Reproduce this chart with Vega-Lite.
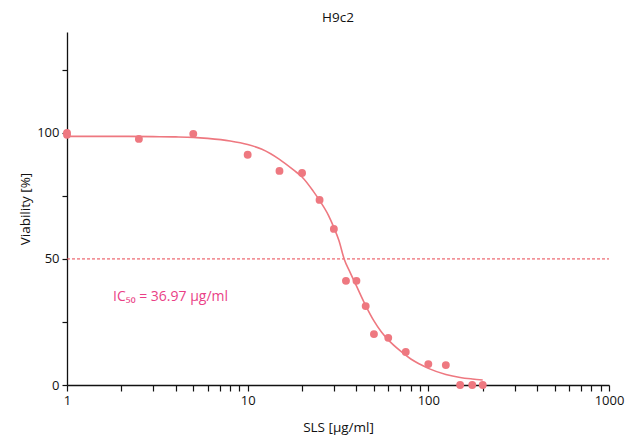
{
  "$schema": "https://vega.github.io/schema/vega-lite/v6.json",
  "width": 542,
  "height": 353,
  "autosize": {"type": "none"},
  "padding": {"left": 67, "top": 32, "right": 23, "bottom": 52},
  "background": "white",
  "config": {
    "view": {"stroke": null},
    "font": "Open Sans",
    "axis": {"grid": false, "domainColor": "#111", "tickColor": "#111", "domainWidth": 1.3, "tickWidth": 1.2, "labelColor": "#111", "titleColor": "#111", "labelFont": "Open Sans", "titleFont": "Open Sans", "labelFontSize": 13, "titleFontSize": 13.5, "titleFontWeight": "normal"}
  },
  "title": {"text": "H9c2", "fontSize": 13.5, "fontWeight": "normal", "font": "Open Sans", "color": "#111", "offset": 8},
  "datasets": {
    "pts": [
      {"conc": 1, "via": 100},
      {"conc": 1, "via": 99.2},
      {"conc": 2.5, "via": 97.6},
      {"conc": 5, "via": 99.6},
      {"conc": 10, "via": 91.3},
      {"conc": 15, "via": 84.9},
      {"conc": 20, "via": 84.1},
      {"conc": 25, "via": 73.4},
      {"conc": 30, "via": 61.9},
      {"conc": 35, "via": 41.3},
      {"conc": 40, "via": 41.3},
      {"conc": 45, "via": 31.3},
      {"conc": 50, "via": 20.2},
      {"conc": 60, "via": 18.7},
      {"conc": 75, "via": 13.1},
      {"conc": 100, "via": 8.3},
      {"conc": 125, "via": 7.9},
      {"conc": 150, "via": 0},
      {"conc": 175, "via": 0},
      {"conc": 200, "via": 0}
    ],
    "fit": [
      {"conc": 1, "via": 98.6},
      {"conc": 2, "via": 98.6},
      {"conc": 3, "via": 98.5},
      {"conc": 4, "via": 98.4},
      {"conc": 5, "via": 98.2},
      {"conc": 6, "via": 97.8},
      {"conc": 8, "via": 96.8},
      {"conc": 10, "via": 95.4},
      {"conc": 12, "via": 93.5},
      {"conc": 15, "via": 89.5},
      {"conc": 18, "via": 85.2},
      {"conc": 20, "via": 82.5},
      {"conc": 23, "via": 77.0},
      {"conc": 25, "via": 73.2},
      {"conc": 28, "via": 67.3},
      {"conc": 30, "via": 62.5},
      {"conc": 32, "via": 57.3},
      {"conc": 34.2, "via": 50},
      {"conc": 37, "via": 44.5},
      {"conc": 40, "via": 39.3},
      {"conc": 45, "via": 31.5},
      {"conc": 50, "via": 25.4},
      {"conc": 55, "via": 21},
      {"conc": 60, "via": 17.9},
      {"conc": 70, "via": 13.5},
      {"conc": 80, "via": 10.3},
      {"conc": 90, "via": 8.2},
      {"conc": 100, "via": 6.6},
      {"conc": 125, "via": 4.2},
      {"conc": 150, "via": 3.0},
      {"conc": 175, "via": 2.4},
      {"conc": 200, "via": 2.0}
    ],
    "ref": [{"conc": 1, "via": 50}, {"conc": 1000, "via": 50}],
    "lbl": [{"conc": 1.8, "via": 34.9, "t": "IC₅₀ = 36.97 µg/ml"}]
  },
  "layer": [
    {
      "data": {"name": "ref"},
      "mark": {"type": "line", "color": "#e8454f", "strokeDash": [3, 2], "strokeWidth": 1},
      "encoding": {
        "x": {"field": "conc", "type": "quantitative", "scale": {"type": "log", "domain": [1, 1000], "nice": false},
          "axis": {"title": "SLS [µg/ml]", "values": [1,2,3,4,5,6,7,8,9,10,20,30,40,50,60,70,80,90,100,200,300,400,500,600,700,800,900,1000], "labelExpr": "indexof([1,10,100,1000], datum.value) >= 0 ? datum.value : ''", "tickSize": 6, "labelPadding": 3, "titlePadding": 13, "labelFlush": false, "labelOverlap": false}},
        "y": {"field": "via", "type": "quantitative", "scale": {"domain": [0, 140], "nice": false},
          "axis": {"title": "Viability [%]", "values": [0, 25, 50, 75, 100, 125], "labelExpr": "datum.value % 50 == 0 ? datum.value : ''", "tickSize": 5, "labelPadding": 3, "titlePadding": 4}}
      }
    },
    {
      "data": {"name": "fit"},
      "mark": {"type": "line", "color": "#ee7880", "strokeWidth": 1.6, "interpolate": "monotone"},
      "encoding": {
        "x": {"field": "conc", "type": "quantitative"},
        "y": {"field": "via", "type": "quantitative"}
      }
    },
    {
      "data": {"name": "pts"},
      "mark": {"type": "circle", "color": "#ee7880", "opacity": 1, "size": 62},
      "encoding": {
        "x": {"field": "conc", "type": "quantitative"},
        "y": {"field": "via", "type": "quantitative"}
      }
    },
    {
      "data": {"name": "lbl"},
      "mark": {"type": "text", "align": "left", "baseline": "middle", "color": "#ea3f86", "fontSize": 14, "font": "Open Sans"},
      "encoding": {
        "x": {"field": "conc", "type": "quantitative"},
        "y": {"field": "via", "type": "quantitative"},
        "text": {"field": "t"}
      }
    }
  ]
}
